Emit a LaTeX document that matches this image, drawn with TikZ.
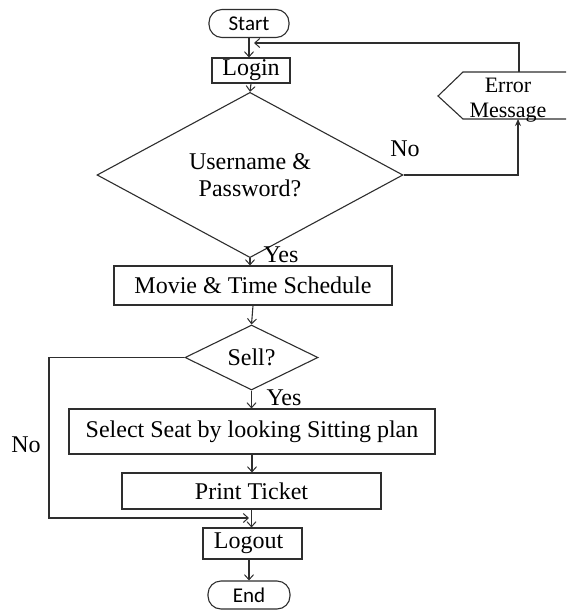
\documentclass[tikz,border=0pt]{standalone}
\usepackage{fontspec}
\setmainfont{Liberation Serif}
\newfontfamily\termfont{Carlito}
\usetikzlibrary{arrows.meta,shapes.geometric}
\begin{document}
\begin{tikzpicture}[x=1pt,y=-1pt,
  line/.style={draw=black!82, line width=1.1pt},
  arr/.style={line, -{Straight Barb[length=5pt,width=9pt,line width=1pt]}},
  farr/.style={line, -{Stealth[length=7pt,width=6pt]}},
  txt/.style={font=\fontsize{24}{27}\selectfont},
  box/.style={line, txt, fill=white, inner sep=0pt, align=center},
  term/.style={line, fill=white, rounded corners=13pt, inner sep=0pt, font=\termfont\fontsize{21}{24}\selectfont},
  dia/.style={line, txt, diamond, inner sep=0pt, align=center, fill=white},
]
\useasboundingbox (0,0) rectangle (566,610);

% nodes
\node[term, minimum width=80pt, minimum height=28pt] (start) at (249,23.5) {Start};
\node[box, minimum width=78pt, minimum height=25pt] (login) at (251,70.5) {Login};
\node[dia, minimum width=306pt, minimum height=142pt] (d1) at (250,175) {\raisebox{-3pt}{Username \&}\\\raisebox{-3pt}{Password?}};
\node[box, minimum width=278pt, minimum height=39pt] (movie) at (253,285.5) {Movie \& Time Schedule};
\node[dia, minimum width=133pt, minimum height=65pt] (sell) at (251.5,357.5) {Sell?};
\node[box, minimum width=366pt, minimum height=45pt] (select) at (252,431.5) {Select Seat by looking Sitting plan};
\node[box, minimum width=259pt, minimum height=36pt] (print) at (251.5,491) {Print Ticket};
\node[box, minimum width=99pt, minimum height=31pt] (logout) at (252.5,543.5) {\hspace*{-8pt}Logout};
\node[term, minimum width=82pt, minimum height=28pt] (end) at (249,595) {End};

% error message display shape
\draw[line] (566,72) -- (463,72) -- (438,96) -- (463,119) -- (566,119);
\node[font=\fontsize{22}{25}\selectfont, align=center] (err) at (508,100) {Error\\Message};
\coordinate (errtop) at (519,72);
\coordinate (errbot) at (518,119);
\coordinate (fb) at (254,43);
\coordinate (nob) at (249,518);

% connectors
\draw[arr] (start.south) -- (start.south |- login.north);
\draw[arr] (errtop) |- (fb);
\draw[arr] (login.south) -- (d1.north);
\draw[farr] (d1.east) -| (errbot);
\draw[arr] (d1.south) -- (d1.south |- movie.north);
\draw[arr] (movie.south) -- (sell.north);
\draw[arr] (sell.south) -- (sell.south |- select.north);
\draw[arr] (select.south) -- (select.south |- print.north);
\draw[arr] (print.south) -- (print.south |- logout.north);
\draw[arr] (sell.west) -- ++(-135.5,0) |- (nob);
\draw[arr] (logout.south -| end.north) -- (end.north);

% labels
\node[txt] (no1) at (405,149) {No};
\node[txt] (yes1) at (281,255) {Yes};
\node[txt] (yes2) at (284,398) {Yes};
\node[txt] (no2) at (26,445) {No};
\end{tikzpicture}
\end{document}
